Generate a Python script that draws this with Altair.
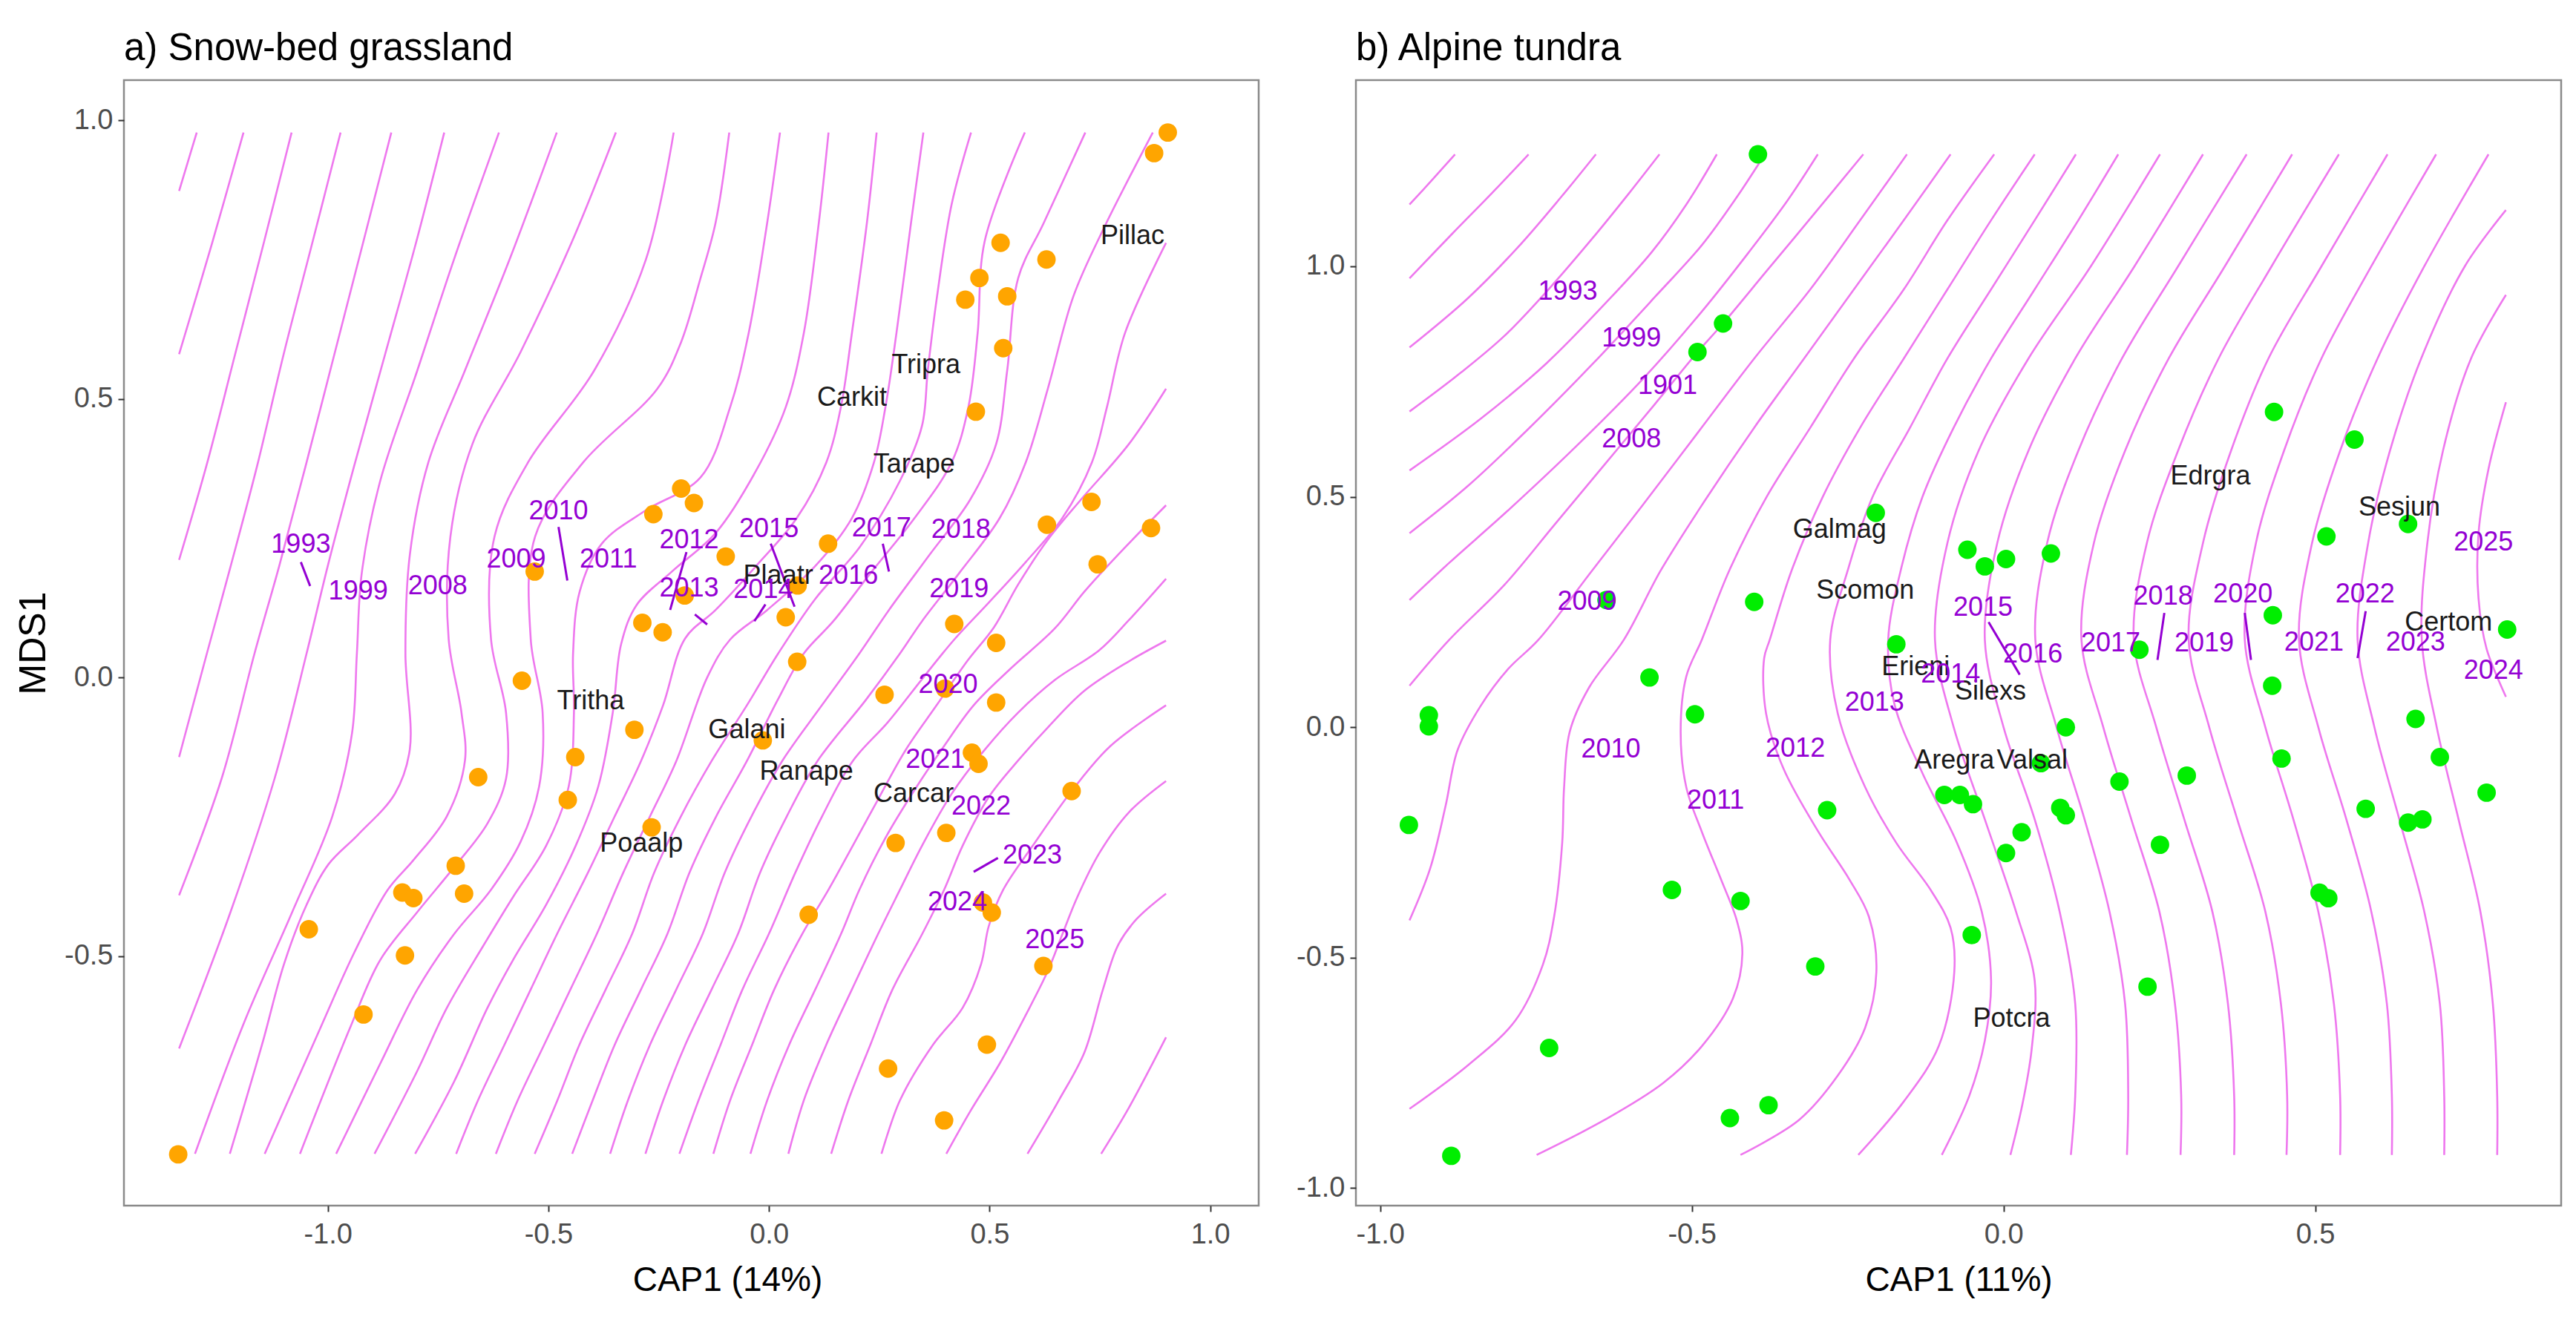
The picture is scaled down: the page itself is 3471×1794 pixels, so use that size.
import altair as alt
import pandas as pd

FONT = "Liberation Sans"
LINE_COL = "#EE78EE"
YEAR_COL = "#9400D3"

# ---------------- Panel a: Snow-bed grassland ----------------
A_PT_X = [-1.339, -1.043, -0.919, -0.831, -0.806, -0.825, -0.710, -0.691, -0.659, -0.560,
          -0.531, -0.456, -0.439, -0.305, -0.266, -0.287, -0.241, -0.191, -0.262, -0.199,
          -0.170, -0.098, 0.038, 0.065, 0.134, -0.014, 0.064, 0.262, 0.399, 0.420,
          0.515, 0.515, 0.460, 0.475, 0.402, 0.287, 0.090, 0.485, 0.505, 0.622,
          0.494, 0.270, 0.397, 0.686, 0.630, 0.731, 0.745, 0.866, 0.469, 0.531,
          0.540, 0.445, 0.477, 0.525, 0.629, 0.873, 0.904]
A_PT_Y = [-0.856, -0.452, -0.605, -0.386, -0.396, -0.499, -0.338, -0.388, -0.179, -0.006,
          0.190, -0.220, -0.143, -0.094, -0.269, 0.098, 0.081, 0.147, 0.293, 0.339,
          0.313, 0.217, 0.108, 0.165, 0.240, -0.113, 0.028, -0.031, -0.020, 0.096,
          0.062, -0.045, -0.135, -0.155, -0.279, -0.297, -0.426, -0.404, -0.422, -0.518,
          -0.659, -0.702, -0.795, -0.204, 0.274, 0.315, 0.203, 0.268, 0.477, 0.591,
          0.684, 0.678, 0.717, 0.780, 0.750, 0.941, 0.978]

A_SP = ["Pillac", "Tripra", "Carkit", "Tarape", "Plaatr", "Tritha", "Poaalp", "Galani", "Ranape", "Carcar"]
A_SP_X = [0.824, 0.356, 0.188, 0.329, 0.021, -0.404, -0.289, -0.050, 0.085, 0.328]
A_SP_Y = [0.793, 0.561, 0.502, 0.382, 0.182, -0.043, -0.298, -0.095, -0.169, -0.209]

A_YR = ["1993", "1999", "2008", "2009", "2010", "2011", "2012", "2013", "2014", "2015",
        "2016", "2017", "2018", "2019", "2020", "2021", "2022", "2023", "2024", "2025"]
A_YR_X = [-1.061, -0.931, -0.751, -0.573, -0.477, -0.364, -0.181, -0.181, -0.013, 0.000,
          0.180, 0.255, 0.435, 0.431, 0.406, 0.377, 0.481, 0.597, 0.427, 0.648]
A_YR_Y = [0.239, 0.155, 0.164, 0.212, 0.298, 0.212, 0.247, 0.160, 0.157, 0.266,
          0.182, 0.268, 0.265, 0.159, -0.013, -0.148, -0.232, -0.320, -0.404, -0.471]

A_LD_X1 = [-1.061, -0.477, -0.187, -0.168, -0.008, 0.004, 0.258, 0.519]
A_LD_Y1 = [0.207, 0.270, 0.225, 0.113, 0.131, 0.240, 0.240, -0.324]
A_LD_X2 = [-1.040, -0.457, -0.224, -0.140, -0.033, 0.058, 0.272, 0.464]
A_LD_Y2 = [0.164, 0.174, 0.121, 0.095, 0.101, 0.127, 0.190, -0.349]

A_LINES = [
    [[-1.297, 0.978], [-1.337, 0.873]],
    [[-1.191, 0.978], [-1.262, 0.78], [-1.337, 0.58]],
    [[-1.082, 0.978], [-1.145, 0.78], [-1.21, 0.58], [-1.275, 0.38], [-1.337, 0.211]],
    [[-0.971, 0.978], [-1.035, 0.78], [-1.10, 0.58], [-1.16, 0.38], [-1.22, 0.20], [-1.274, 0.043], [-1.337, -0.143]],
    [[-0.856, 0.978], [-0.92, 0.78], [-0.985, 0.58], [-1.05, 0.38], [-1.11, 0.20], [-1.166, 0.043], [-1.24, -0.18], [-1.337, -0.391]],
    [[-0.736, 0.978], [-0.80, 0.78], [-0.87, 0.58], [-0.94, 0.38], [-1.00, 0.20], [-1.048, 0.043], [-1.12, -0.18], [-1.22, -0.42], [-1.337, -0.666]],
    [[-0.612, 0.978], [-0.714, 0.75], [-0.797, 0.551], [-0.881, 0.353], [-0.923, 0.187], [-0.934, 0.043], [-0.945, -0.10], [-0.99, -0.25], [-1.08, -0.42], [-1.19, -0.62], [-1.301, -0.855]],
    [[-0.481, 0.978], [-0.588, 0.75], [-0.689, 0.551], [-0.772, 0.386], [-0.814, 0.220], [-0.824, 0.043], [-0.814, -0.129], [-0.848, -0.209], [-0.931, -0.282], [-0.998, -0.335], [-1.048, -0.408], [-1.099, -0.514], [-1.149, -0.659], [-1.222, -0.855]],
    [[-0.347, 0.978], [-0.446, 0.783], [-0.563, 0.584], [-0.672, 0.419], [-0.722, 0.253], [-0.726, 0.069], [-0.697, -0.063], [-0.689, -0.149], [-0.730, -0.249], [-0.806, -0.328], [-0.864, -0.381], [-0.940, -0.494], [-1.015, -0.626], [-1.143, -0.855]],
    [[-0.216, 0.978], [-0.279, 0.75], [-0.396, 0.551], [-0.546, 0.386], [-0.622, 0.253], [-0.630, 0.069], [-0.596, -0.063], [-0.596, -0.182], [-0.638, -0.262], [-0.714, -0.341], [-0.797, -0.421], [-0.881, -0.507], [-0.948, -0.626], [-1.063, -0.855]],
    [[-0.090, 0.978], [-0.121, 0.816], [-0.155, 0.717], [-0.20, 0.60], [-0.253, 0.518], [-0.421, 0.386], [-0.530, 0.253], [-0.540, 0.069], [-0.513, -0.063], [-0.521, -0.196], [-0.563, -0.295], [-0.630, -0.381], [-0.714, -0.461], [-0.797, -0.560], [-0.881, -0.693], [-0.981, -0.855]],
    [[0.025, 0.978], [-0.004, 0.816], [-0.046, 0.618], [-0.088, 0.485], [-0.155, 0.359], [-0.279, 0.30], [-0.379, 0.24], [-0.429, 0.154], [-0.444, 0.043], [-0.442, -0.063], [-0.454, -0.196], [-0.505, -0.302], [-0.580, -0.394], [-0.647, -0.481], [-0.730, -0.593], [-0.797, -0.706], [-0.894, -0.855]],
    [[0.135, 0.978], [0.113, 0.816], [0.079, 0.618], [0.038, 0.485], [-0.03, 0.37], [-0.12, 0.26], [-0.22, 0.19], [-0.30, 0.13], [-0.335, 0.06], [-0.354, -0.063], [-0.387, -0.196], [-0.438, -0.302], [-0.505, -0.408], [-0.580, -0.507], [-0.638, -0.593], [-0.714, -0.726], [-0.802, -0.855]],
    [[0.244, 0.978], [0.222, 0.816], [0.188, 0.618], [0.163, 0.485], [0.130, 0.386], [0.063, 0.286], [-0.029, 0.20], [-0.121, 0.121], [-0.19, 0.07], [-0.24, -0.05], [-0.29, -0.15], [-0.35, -0.25], [-0.41, -0.35], [-0.48, -0.46], [-0.54, -0.56], [-0.60, -0.66], [-0.66, -0.76], [-0.709, -0.855]],
    [[0.350, 0.978], [0.322, 0.816], [0.289, 0.618], [0.264, 0.485], [0.238, 0.386], [0.188, 0.286], [0.105, 0.200], [-0.004, 0.121], [-0.088, 0.068], [-0.14, 0.0], [-0.21, -0.15], [-0.27, -0.25], [-0.33, -0.35], [-0.39, -0.46], [-0.45, -0.56], [-0.51, -0.66], [-0.57, -0.76], [-0.619, -0.855]],
    [[0.458, 0.978], [0.414, 0.849], [0.381, 0.684], [0.360, 0.551], [0.347, 0.452], [0.297, 0.353], [0.205, 0.233], [0.105, 0.141], [0.021, 0.043], [-0.05, -0.05], [-0.13, -0.15], [-0.20, -0.25], [-0.26, -0.35], [-0.31, -0.46], [-0.37, -0.56], [-0.43, -0.66], [-0.48, -0.76], [-0.531, -0.855]],
    [[0.580, 0.978], [0.489, 0.783], [0.473, 0.618], [0.452, 0.485], [0.414, 0.386], [0.330, 0.286], [0.230, 0.187], [0.146, 0.101], [0.079, 0.043], [0.02, -0.04], [-0.05, -0.15], [-0.12, -0.25], [-0.18, -0.35], [-0.23, -0.46], [-0.29, -0.56], [-0.35, -0.66], [-0.40, -0.76], [-0.446, -0.855]],
    [[0.717, 0.978], [0.623, 0.816], [0.565, 0.717], [0.540, 0.551], [0.515, 0.419], [0.456, 0.319], [0.364, 0.220], [0.272, 0.121], [0.205, 0.043], [0.12, -0.05], [0.03, -0.15], [-0.04, -0.25], [-0.10, -0.35], [-0.15, -0.46], [-0.21, -0.56], [-0.27, -0.66], [-0.32, -0.76], [-0.360, -0.855]],
    [[0.870, 0.978], [0.757, 0.803], [0.690, 0.684], [0.632, 0.518], [0.582, 0.386], [0.523, 0.286], [0.431, 0.187], [0.347, 0.101], [0.297, 0.043], [0.22, -0.04], [0.11, -0.15], [0.04, -0.25], [-0.02, -0.35], [-0.07, -0.46], [-0.13, -0.56], [-0.19, -0.66], [-0.24, -0.76], [-0.280, -0.855]],
    [[0.9, 0.780], [0.807, 0.618], [0.766, 0.485], [0.732, 0.386], [0.665, 0.286], [0.582, 0.207], [0.498, 0.134], [0.42, 0.068], [0.35, 0.0], [0.27, -0.08], [0.19, -0.15], [0.12, -0.25], [0.06, -0.35], [0.0, -0.46], [-0.06, -0.56], [-0.11, -0.66], [-0.16, -0.76], [-0.203, -0.855]],
    [[0.9, 0.518], [0.816, 0.419], [0.707, 0.319], [0.632, 0.247], [0.565, 0.167], [0.51, 0.09], [0.45, 0.03], [0.38, -0.05], [0.31, -0.13], [0.25, -0.215], [0.19, -0.302], [0.135, -0.381], [0.075, -0.461], [0.012, -0.560], [-0.038, -0.659], [-0.088, -0.759], [-0.126, -0.855]],
    [[0.9, 0.309], [0.791, 0.220], [0.715, 0.154], [0.648, 0.088], [0.548, 0.016], [0.464, -0.050], [0.397, -0.123], [0.330, -0.202], [0.264, -0.288], [0.205, -0.381], [0.163, -0.461], [0.105, -0.560], [0.046, -0.659], [-0.004, -0.759], [-0.042, -0.855]],
    [[0.9, 0.177], [0.816, 0.103], [0.749, 0.049], [0.649, -0.004], [0.565, -0.063], [0.490, -0.129], [0.414, -0.209], [0.347, -0.302], [0.297, -0.381], [0.247, -0.461], [0.188, -0.560], [0.130, -0.659], [0.079, -0.759], [0.044, -0.855]],
    [[0.9, 0.066], [0.816, 0.029], [0.715, -0.024], [0.632, -0.090], [0.565, -0.149], [0.498, -0.215], [0.439, -0.302], [0.397, -0.381], [0.347, -0.461], [0.280, -0.560], [0.230, -0.659], [0.180, -0.759], [0.141, -0.855]],
    [[0.9, -0.050], [0.774, -0.123], [0.686, -0.204], [0.598, -0.302], [0.531, -0.381], [0.498, -0.447], [0.481, -0.514], [0.439, -0.593], [0.372, -0.659], [0.297, -0.759], [0.255, -0.855]],
    [[0.9, -0.186], [0.816, -0.242], [0.749, -0.315], [0.699, -0.394], [0.665, -0.461], [0.632, -0.527], [0.582, -0.606], [0.523, -0.693], [0.456, -0.779], [0.402, -0.855]],
    [[0.9, -0.388], [0.833, -0.434], [0.791, -0.481], [0.757, -0.560], [0.715, -0.673], [0.657, -0.759], [0.586, -0.855]],
    [[0.9, -0.646], [0.816, -0.772], [0.753, -0.855]],
]

# ---------------- Panel b: Alpine tundra ----------------
B_PT_X = [-0.394, -0.450, -0.491, -0.205, -0.637, -0.400, -0.172, -0.058, -0.030, 0.004,
          0.076, 0.434, 0.563, 0.518, 0.649, 0.432, 0.808, 0.218, -0.922, -0.922,
          -0.568, -0.495, -0.954, -0.283, -0.532, -0.422, -0.302, -0.729, -0.377, -0.439,
          -0.886, -0.095, -0.070, -0.049, 0.060, 0.100, 0.091, 0.100, 0.029, 0.004,
          -0.051, 0.231, 0.186, 0.251, 0.294, 0.431, 0.446, 0.507, 0.521, 0.581,
          0.661, 0.700, 0.775, 0.649, 0.672]
B_PT_Y = [1.243, 0.876, 0.814, 0.465, 0.276, 0.272, 0.180, 0.385, 0.349, 0.365,
          0.377, 0.684, 0.624, 0.414, 0.441, 0.243, 0.212, 0.168, 0.026, 0.002,
          0.108, 0.028, -0.212, -0.180, -0.353, -0.377, -0.519, -0.696, -0.820, -0.848,
          -0.930, -0.147, -0.147, -0.167, -0.078, 0.000, -0.175, -0.191, -0.228, -0.273,
          -0.451, -0.563, -0.118, -0.255, -0.105, 0.090, -0.068, -0.359, -0.371, -0.177,
          0.018, -0.065, -0.142, -0.207, -0.200]

B_SP = ["Galmag", "Scomon", "Edrgra", "Sesjun", "Certom", "Erieni", "Silexs", "Aregra", "Valsal", "Potcra"]
B_SP_X = [-0.263, -0.222, 0.332, 0.635, 0.714, -0.141, -0.021, -0.079, 0.046, 0.013]
B_SP_Y = [0.429, 0.297, 0.545, 0.477, 0.228, 0.130, 0.078, -0.072, -0.072, -0.632]

B_YR = ["1993", "1999", "1901", "2008", "2009", "2010", "2011", "2012", "2013", "2014", "2015",
        "2016", "2017", "2018", "2019", "2020", "2021", "2022", "2023", "2024", "2025"]
B_YR_X = [-0.699, -0.597, -0.539, -0.597, -0.668, -0.630, -0.462, -0.334, -0.207, -0.085, -0.033,
          0.047, 0.172, 0.256, 0.322, 0.384, 0.498, 0.580, 0.661, 0.786, 0.770]
B_YR_Y = [0.946, 0.844, 0.741, 0.625, 0.272, -0.048, -0.159, -0.046, 0.054, 0.115, 0.260,
          0.158, 0.182, 0.284, 0.182, 0.288, 0.184, 0.288, 0.184, 0.122, 0.401]

B_LD_X1 = [-0.024, 0.258, 0.387, 0.581]
B_LD_Y1 = [0.228, 0.248, 0.248, 0.252]
B_LD_X2 = [0.026, 0.247, 0.397, 0.568]
B_LD_Y2 = [0.114, 0.146, 0.146, 0.150]

B_LINES = [
    [[-0.880, 1.243], [-0.915, 1.19], [-0.953, 1.134]],
    [[-0.762, 1.243], [-0.82, 1.16], [-0.885, 1.07], [-0.953, 0.974]],
    [[-0.654, 1.243], [-0.71, 1.15], [-0.78, 1.04], [-0.86, 0.93], [-0.953, 0.824]],
    [[-0.552, 1.243], [-0.60, 1.16], [-0.66, 1.06], [-0.73, 0.95], [-0.80, 0.85], [-0.87, 0.77], [-0.953, 0.685]],
    [[-0.460, 1.243], [-0.509, 1.134], [-0.565, 1.030], [-0.640, 0.918], [-0.733, 0.790], [-0.839, 0.669], [-0.953, 0.557]],
    [[-0.383, 1.243], [-0.428, 1.150], [-0.484, 1.046], [-0.559, 0.934], [-0.658, 0.790], [-0.764, 0.645], [-0.858, 0.525], [-0.953, 0.421]],
    [[-0.298, 1.243], [-0.347, 1.142], [-0.409, 1.030], [-0.484, 0.902], [-0.577, 0.758], [-0.683, 0.613], [-0.796, 0.469], [-0.889, 0.357], [-0.953, 0.276]],
    [[-0.225, 1.243], [-0.30, 1.12], [-0.38, 0.99], [-0.450, 0.876], [-0.491, 0.814], [-0.56, 0.70], [-0.64, 0.57], [-0.72, 0.44], [-0.80, 0.31], [-0.889, 0.190], [-0.953, 0.090]],
    [[-0.155, 1.243], [-0.23, 1.10], [-0.31, 0.95], [-0.40, 0.80], [-0.49, 0.64], [-0.58, 0.48], [-0.66, 0.34], [-0.746, 0.190], [-0.795, 0.126], [-0.839, 0.046], [-0.876, -0.050], [-0.895, -0.170], [-0.920, -0.307], [-0.953, -0.419]],
    [[-0.085, 1.243], [-0.16, 1.10], [-0.24, 0.95], [-0.32, 0.80], [-0.40, 0.65], [-0.48, 0.49], [-0.55, 0.34], [-0.609, 0.190], [-0.665, 0.086], [-0.696, -0.010], [-0.705, -0.130], [-0.708, -0.250], [-0.721, -0.411], [-0.739, -0.515], [-0.783, -0.636], [-0.858, -0.732], [-0.953, -0.828]],
    [[-0.015, 1.243], [-0.09, 1.10], [-0.16, 0.95], [-0.24, 0.80], [-0.31, 0.65], [-0.38, 0.50], [-0.44, 0.34], [-0.484, 0.190], [-0.509, 0.110], [-0.518, -0.010], [-0.509, -0.130], [-0.484, -0.227], [-0.453, -0.331], [-0.428, -0.419], [-0.419, -0.491], [-0.434, -0.588], [-0.484, -0.692], [-0.546, -0.772], [-0.640, -0.852], [-0.749, -0.928]],
    [[0.050, 1.243], [-0.02, 1.10], [-0.09, 0.95], [-0.16, 0.80], [-0.23, 0.65], [-0.29, 0.50], [-0.34, 0.34], [-0.375, 0.190], [-0.384, 0.150], [-0.381, 0.030], [-0.353, -0.090], [-0.297, -0.227], [-0.247, -0.331], [-0.216, -0.411], [-0.204, -0.531], [-0.222, -0.652], [-0.266, -0.756], [-0.328, -0.852], [-0.422, -0.928]],
    [[0.116, 1.243], [0.05, 1.10], [-0.02, 0.95], [-0.09, 0.80], [-0.15, 0.65], [-0.21, 0.50], [-0.25, 0.34], [-0.278, 0.190], [-0.266, 0.030], [-0.222, -0.130], [-0.172, -0.251], [-0.116, -0.355], [-0.085, -0.435], [-0.079, -0.531], [-0.104, -0.692], [-0.160, -0.812], [-0.233, -0.928]],
    [[0.184, 1.243], [0.12, 1.10], [0.05, 0.95], [-0.02, 0.80], [-0.08, 0.65], [-0.13, 0.50], [-0.165, 0.34], [-0.185, 0.19], [-0.175, 0.05], [-0.13, -0.10], [-0.075, -0.25], [-0.035, -0.40], [-0.02, -0.55], [-0.03, -0.68], [-0.055, -0.80], [-0.099, -0.928]],
    [[0.251, 1.243], [0.14, 1.0], [0.04, 0.8], [-0.04, 0.6], [-0.09, 0.4], [-0.110, 0.19], [-0.08, 0.0], [-0.03, -0.2], [0.02, -0.4], [0.05, -0.55], [0.045, -0.7], [0.03, -0.82], [0.011, -0.928]],
    [[0.320, 1.243], [0.21, 1.0], [0.115, 0.8], [0.04, 0.6], [-0.01, 0.4], [-0.030, 0.19], [0.0, 0.0], [0.05, -0.2], [0.09, -0.4], [0.115, -0.6], [0.115, -0.8], [0.108, -0.928]],
    [[0.390, 1.243], [0.28, 1.0], [0.19, 0.8], [0.12, 0.6], [0.07, 0.4], [0.051, 0.19], [0.085, 0.0], [0.13, -0.2], [0.17, -0.4], [0.195, -0.6], [0.2, -0.8], [0.198, -0.928]],
    [[0.463, 1.243], [0.355, 1.0], [0.265, 0.8], [0.195, 0.6], [0.145, 0.4], [0.125, 0.19], [0.16, 0.0], [0.205, -0.2], [0.25, -0.4], [0.275, -0.6], [0.285, -0.8], [0.284, -0.928]],
    [[0.538, 1.243], [0.43, 1.0], [0.345, 0.8], [0.28, 0.6], [0.23, 0.4], [0.209, 0.19], [0.245, 0.0], [0.29, -0.2], [0.335, -0.4], [0.36, -0.6], [0.37, -0.8], [0.370, -0.928]],
    [[0.616, 1.243], [0.51, 1.0], [0.425, 0.8], [0.365, 0.6], [0.32, 0.4], [0.297, 0.19], [0.33, 0.0], [0.375, -0.2], [0.42, -0.4], [0.445, -0.6], [0.455, -0.8], [0.454, -0.928]],
    [[0.694, 1.243], [0.59, 1.0], [0.51, 0.8], [0.45, 0.6], [0.405, 0.4], [0.387, 0.19], [0.42, 0.0], [0.465, -0.2], [0.505, -0.4], [0.53, -0.6], [0.54, -0.8], [0.540, -0.928]],
    [[0.778, 1.243], [0.675, 1.0], [0.6, 0.8], [0.54, 0.6], [0.495, 0.4], [0.474, 0.19], [0.505, 0.0], [0.55, -0.2], [0.59, -0.4], [0.615, -0.6], [0.623, -0.8], [0.623, -0.928]],
    [[0.806, 1.122], [0.74, 1.0], [0.67, 0.8], [0.62, 0.6], [0.585, 0.4], [0.568, 0.19], [0.595, 0.0], [0.635, -0.2], [0.675, -0.4], [0.70, -0.6], [0.707, -0.8], [0.707, -0.928]],
    [[0.806, 0.938], [0.75, 0.8], [0.705, 0.6], [0.68, 0.4], [0.671, 0.19], [0.695, 0.0], [0.73, -0.2], [0.765, -0.4], [0.785, -0.6], [0.792, -0.8], [0.792, -0.928]],
    [[0.806, 0.705], [0.778, 0.56], [0.762, 0.42], [0.762, 0.28], [0.775, 0.17], [0.806, 0.066]],
]

LABEL_EXPR = "replace(format(datum.value, '.1f'), '\u2212', '-')"


def lines_frame(lines):
    rows = []
    for i, pts in enumerate(lines):
        for j, (x, y) in enumerate(pts):
            rows.append({"line": i, "ord": j, "x": x, "y": y})
    return pd.DataFrame(rows)


def panel(title, lines, px, py, pcol, sp, spx, spy, yr, yrx, yry, lx1, ly1, lx2, ly2,
          xdom, ydom, xticks, yticks, xtitle, ytitle, width, height, xtitle_x):
    xscale = alt.Scale(domain=xdom, nice=False, zero=False)
    yscale = alt.Scale(domain=ydom, nice=False, zero=False)
    xaxis = alt.Axis(values=xticks, labelExpr=LABEL_EXPR, title=xtitle, labelPadding=12,
                     titlePadding=20, titleX=xtitle_x, titleAlign="center", labelFlush=False,
                     titleFontSize=46)
    if ytitle:
        yaxis = alt.Axis(values=yticks, labelExpr=LABEL_EXPR, title=ytitle, labelPadding=7,
                         titlePadding=16, labelFlush=False, titleFontSize=50)
    else:
        yaxis = alt.Axis(values=yticks, labelExpr=LABEL_EXPR, title=None, labelPadding=7,
                         labelFlush=False)
    X = alt.X("x:Q", scale=xscale, axis=xaxis)
    Y = alt.Y("y:Q", scale=yscale, axis=yaxis)

    contour = alt.Chart(lines_frame(lines)).mark_line(
        color=LINE_COL, strokeWidth=2.6, interpolate="catmull-rom"
    ).encode(x=X, y=Y, detail="line:N", order="ord:Q")

    lead = alt.Chart(pd.DataFrame({"x": lx1, "y": ly1, "x2": lx2, "y2": ly2})).mark_rule(
        color=YEAR_COL, strokeWidth=3
    ).encode(x=X, y=Y, x2="x2:Q", y2="y2:Q")

    pts = alt.Chart(pd.DataFrame({"x": px, "y": py})).mark_circle(
        size=620, opacity=1, color=pcol
    ).encode(x=X, y=Y)

    spt = alt.Chart(pd.DataFrame({"x": spx, "y": spy, "t": sp})).mark_text(
        font=FONT, fontSize=36, color="#1a1a1a"
    ).encode(x=X, y=Y, text="t:N")

    yrt = alt.Chart(pd.DataFrame({"x": yrx, "y": yry, "t": yr})).mark_text(
        font=FONT, fontSize=36, color=YEAR_COL
    ).encode(x=X, y=Y, text="t:N")

    return alt.layer(contour, lead, pts, spt, yrt).properties(
        width=width, height=height,
        title=alt.TitleParams(title, anchor="start", frame="group", fontSize=51, font=FONT,
                              fontWeight="normal", color="#000000", offset=16),
    )


pa = panel("a) Snow-bed grassland", A_LINES, A_PT_X, A_PT_Y, "#FFA500",
           A_SP, A_SP_X, A_SP_Y, A_YR, A_YR_X, A_YR_Y, A_LD_X1, A_LD_Y1, A_LD_X2, A_LD_Y2,
           [-1.462, 1.110], [-0.948, 1.072], [-1.0, -0.5, 0.0, 0.5, 1.0], [-0.5, 0.0, 0.5, 1.0],
           "CAP1 (14%)", "MDS1", 1529, 1517, 813)

pb = panel("b) Alpine tundra", B_LINES, B_PT_X, B_PT_Y, "#00EE00",
           B_SP, B_SP_X, B_SP_Y, B_YR, B_YR_X, B_YR_Y, B_LD_X1, B_LD_Y1, B_LD_X2, B_LD_Y2,
           [-1.039, 0.8946], [-1.038, 1.404], [-1.0, -0.5, 0.0, 0.5], [-1.0, -0.5, 0.0, 0.5, 1.0],
           "CAP1 (11%)", None, 1624, 1517, 812)

chart = alt.hconcat(pa, pb, spacing=47).resolve_scale(x="independent", y="independent").properties(
    padding={"left": 19, "top": 38, "right": 5, "bottom": 5},
    background="white",
).configure_view(
    stroke="#8a8a8a", strokeWidth=2.5
).configure_axis(
    labelFont=FONT, titleFont=FONT, labelFontSize=38, titleFontSize=46,
    labelColor="#4d4d4d", titleColor="#000000", titleFontWeight="normal",
    tickColor="#333333", tickSize=8, tickWidth=2, domain=False, grid=False,
)

chart.save("out.html", embed_options={"renderer": "svg", "actions": False})
